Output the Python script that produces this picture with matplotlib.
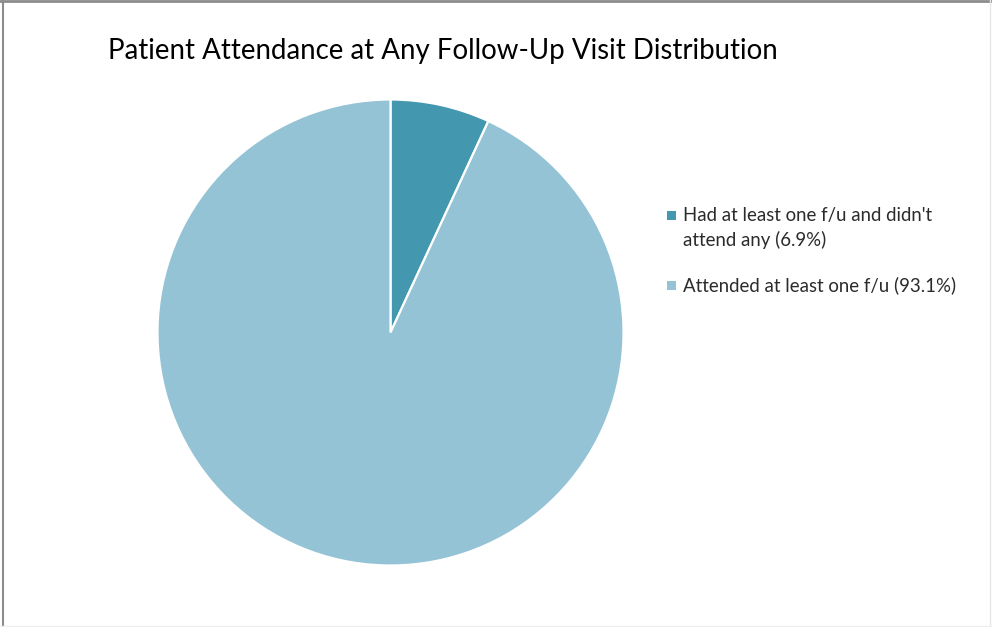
import matplotlib
matplotlib.use("Agg")
import matplotlib.pyplot as plt
from matplotlib.patches import Rectangle
from matplotlib.lines import Line2D

categories = ["Had at least one f/u and didn't\nattend any", "Attended at least one f/u"]
shares = [6.9, 93.1]
colors = ["#4398AF", "#93C3D5"]
title = "Patient Attendance at Any Follow-Up Visit Distribution"

W, H = 992, 627
fig = plt.figure(figsize=(W / 100, H / 100), dpi=100)
fig.patch.set_facecolor("white")

# pie area: square axes in pixel units
cx, cy, r = 390.5, 332.5, 233.0
ax = fig.add_axes([(cx - r) / W, (H - cy - r) / H, 2 * r / W, 2 * r / H])
ax.pie(shares, colors=colors, startangle=90, counterclock=False, radius=1.0,
       wedgeprops=dict(edgecolor="white", linewidth=1.6))
ax.set_xlim(-1, 1)
ax.set_ylim(-1, 1)
ax.set_aspect("equal")
ax.axis("off")

font = "Lato"
fig.text(108 / W, 1 - 59 / H, title, fontsize=19.9, family=font, color="#000000",
         va="baseline", ha="left")

# legend drawn by hand, one text line at a time
entry_baseline = [221, 291]
line_step = 25
for lab, v, c, yb in zip(categories, shares, colors, entry_baseline):
    fig.add_artist(Rectangle((667 / W, 1 - (yb - 1) / H), 8.5 / W, 8.5 / H,
                             transform=fig.transFigure, facecolor=c, edgecolor="none"))
    for i, line in enumerate(f"{lab} ({v:.1f}%)".split("\n")):
        fig.text(683 / W, 1 - (yb + i * line_step) / H, line, fontsize=13.4, family=font,
                 color="#2b2b2b", va="baseline", ha="left")

# outer frame
fig.add_artist(Line2D([0, 1], [1 - 1 / H, 1 - 1 / H], transform=fig.transFigure, color="#8c8c8c", lw=2))
fig.add_artist(Line2D([2.5 / W, 2.5 / W], [0, 1], transform=fig.transFigure, color="#8c8c8c", lw=1.5))
fig.add_artist(Line2D([990 / W, 990 / W], [0, 1], transform=fig.transFigure, color="#e6e6e6", lw=1))
fig.add_artist(Line2D([0, 1], [1 / H, 1 / H], transform=fig.transFigure, color="#eeeeee", lw=1))

fig.savefig("out.png", dpi=100, facecolor="white")
